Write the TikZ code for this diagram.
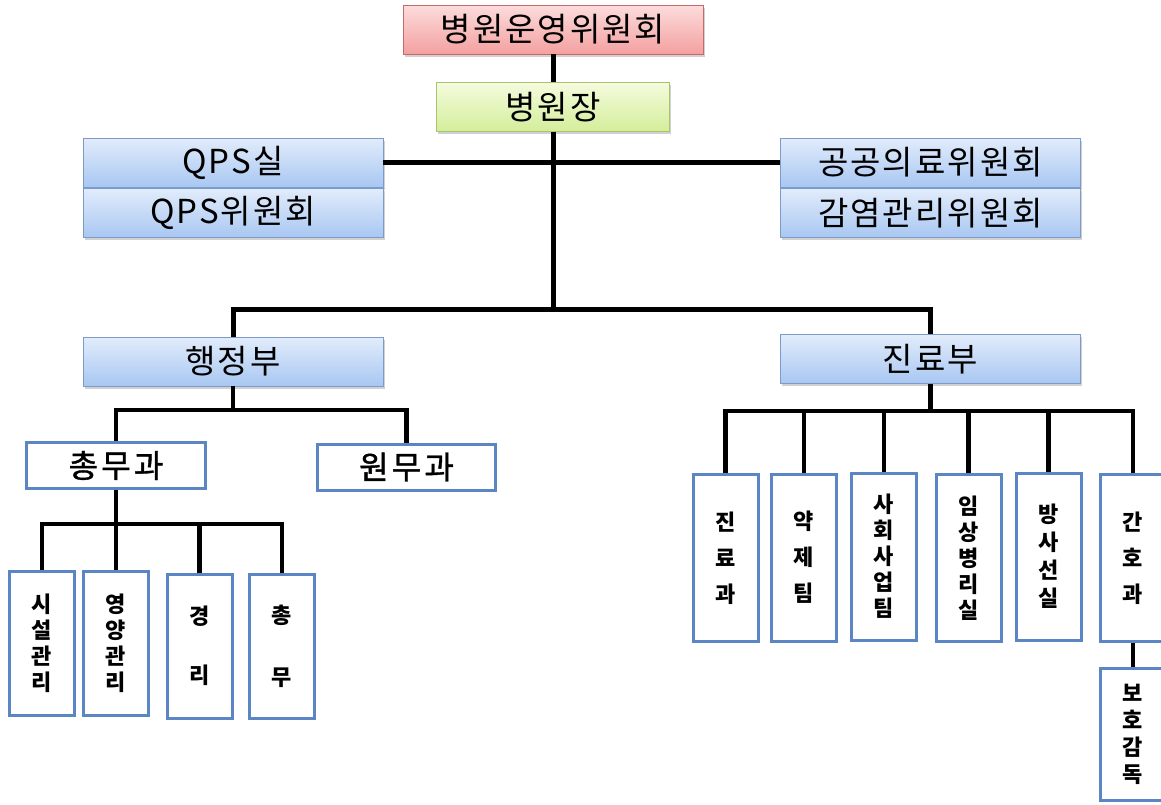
\documentclass[tikz,border=0pt]{standalone}
\usepackage{fontspec}
\setmainfont{Noto Sans CJK KR}
\newfontfamily\krwide[LetterSpace=6]{Noto Sans CJK KR}
\newfontfamily\krsemi[FakeBold=1.2, LetterSpace=10]{Noto Sans CJK KR}
\usetikzlibrary{positioning,shadows}

\definecolor{redtop}{HTML}{FCDCDC}
\definecolor{redbot}{HTML}{F4A0A0}
\definecolor{redline}{HTML}{C46A68}
\definecolor{greentop}{HTML}{F4FBDE}
\definecolor{greenbot}{HTML}{D4EE9A}
\definecolor{greenline}{HTML}{A9C470}
\definecolor{bluetop}{HTML}{E2ECFB}
\definecolor{bluebot}{HTML}{A8C7F2}
\definecolor{blueline}{HTML}{7D9BC8}
\definecolor{wline}{HTML}{5B86C3}

\begin{document}
\begin{tikzpicture}[x=1pt, y=-1pt,
    box/.style={draw, minimum height=49, inner sep=0pt, font=\krwide\fontsize{33}{36}\selectfont,
      drop shadow={shadow xshift=1.5pt, shadow yshift=-2.5pt, opacity=0.3, fill=black!60}},
    redbox/.style={box, draw=redline, top color=redtop, bottom color=redbot, minimum width=300},
    greenbox/.style={box, draw=greenline, top color=greentop, bottom color=greenbot, minimum width=233},
    bluebox/.style={box, draw=blueline, top color=bluetop, bottom color=bluebot, minimum width=300},
    wbox/.style={draw=wline, line width=3pt, fill=white, inner sep=0pt, minimum height=46,
      font=\krsemi\fontsize{32}{36}\selectfont},
    vbox/.style={draw=wline, line width=3pt, fill=white, inner sep=0pt, minimum width=65,
      minimum height=144, align=center, font=\bfseries\fontsize{22}{#1}\selectfont},
    conn/.style={line width=5pt},
    subconn/.style={line width=4.5pt}
  ]
\useasboundingbox (0,0) rectangle (1161,804);
\clip (0,0) rectangle (1161,804);

% Committee, director and staff offices
\node[redbox] (commit) at (553,29.5) {병원운영위원회};
\node[greenbox, below=28pt of commit] (head) {병원장};
\node[bluebox] (qps) at (233,162.5) {QPS실};
\node[bluebox, below=1pt of qps] (qpscom) {QPS위원회};
\node[bluebox] (pubcom) at (930.5,162.5) {공공의료위원회};
\node[bluebox, below=1pt of pubcom] (infcom) {감염관리위원회};

% Departments
\node[bluebox] (admin) at (233,361.5) {행정부};
\node[bluebox] (med) at (930.5,359) {진료부};

% Administration side
\node[wbox, minimum width=179] (genaff) at (116,465.5) {총무과};
\node[wbox, minimum width=178] (pataff) at (406.5,467) {원무과};
\node[vbox=26] (fac) at (42,643.5) {시\\설\\관\\리};
\node[vbox=26] (nutr) at (116,643.5) {영\\양\\관\\리};
\node[vbox=59] (acct) at (199.5,646) {경\\리};
\node[vbox=62] (gen) at (282,646) {총\\무};

% Medical side
\node[vbox=36, minimum height=167] (clinic) at (725.5,558) {진\\료\\과};
\node[vbox=36, minimum height=167] (pharm) at (804,557.5) {약\\제\\팀};
\node[vbox=26, minimum height=167] (social) at (884,556.5) {사\\회\\사\\업\\팀};
\node[vbox=26, minimum height=167] (lab) at (968.5,558) {임\\상\\병\\리\\실};
\node[vbox=28, minimum height=167] (radio) at (1048.5,556.5) {방\\사\\선\\실};
\node[vbox=36, minimum height=167] (nurse) at (1133,558) {간\\호\\과};
\node[vbox=27, minimum height=132] (care) at (1133,734.5) {보\\호\\감\\독};

% Connectors
\coordinate (mainbus) at (553,309);
\coordinate (abus) at (233,410);
\coordinate (gbus) at (116,524);
\coordinate (mbus) at (930.5,411);

\draw[conn] (commit) -- (head);
\draw[conn] (head.south) -- (mainbus);
\draw[conn] (qps) -- (pubcom);
\draw[conn] (admin.north) |- (mainbus) -| (med.north);

\draw[subconn] (admin.south) -- (abus);
\draw[subconn] (genaff.north) |- (abus) -| (pataff.north);
\draw[subconn] (genaff.south) -- (nutr.north);
\draw[subconn] (fac.north) |- (gbus) -| (gen.north);
\draw[subconn] (acct.north) -- (acct.north |- gbus);

\draw[subconn] (med.south) -- (mbus);
\draw[subconn] (clinic.north) |- (mbus) -| (nurse.north);
\foreach \n in {pharm,social,lab,radio}
  \draw[subconn] (\n.north) -- (\n.north |- mbus);
\draw[subconn] (nurse) -- (care);

\end{tikzpicture}
\end{document}
